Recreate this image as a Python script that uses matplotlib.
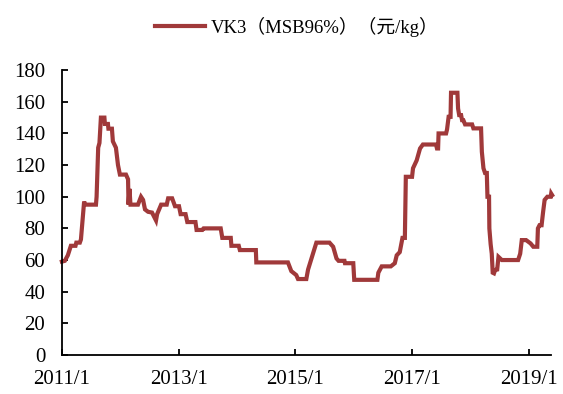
import numpy as np
import pandas as pd
import matplotlib
matplotlib.use('Agg')
import matplotlib.pyplot as plt
import matplotlib.dates as mdates

# VK3 weekly price, yuan/kg (turning points of the series)
dates = [
    '2011-01-01', '2011-01-19', '2011-02-07', '2011-02-26', '2011-03-27', '2011-04-01',
    '2011-04-23', '2011-04-30', '2011-05-10', '2011-05-20', '2011-05-25', '2011-08-02',
    '2011-08-06', '2011-08-16', '2011-08-24', '2011-09-02', '2011-09-24', '2011-09-27',
    '2011-10-16', '2011-10-19', '2011-11-10', '2011-11-16', '2011-12-05', '2011-12-18',
    '2011-12-30', '2012-02-06', '2012-02-19', '2012-02-22', '2012-02-28', '2012-03-05',
    '2012-04-21', '2012-05-10', '2012-05-23', '2012-06-04', '2012-06-23', '2012-07-18',
    '2012-08-12', '2012-08-19', '2012-09-13', '2012-10-18', '2012-10-27', '2012-11-21',
    '2012-12-09', '2013-01-03', '2013-01-13', '2013-02-13', '2013-02-24', '2013-04-16',
    '2013-04-23', '2013-05-29', '2013-06-06', '2013-09-21', '2013-10-01', '2013-11-23',
    '2013-11-27', '2014-01-12', '2014-01-19', '2014-04-29', '2014-05-02', '2014-11-16',
    '2014-12-07', '2015-01-07', '2015-01-18', '2015-03-11', '2015-03-22', '2015-05-13',
    '2015-07-26', '2015-08-03', '2015-08-26', '2015-09-16', '2015-09-29', '2015-11-05',
    '2015-11-08', '2015-12-30', '2016-01-05', '2016-05-29', '2016-06-04', '2016-06-25',
    '2016-08-21', '2016-09-15', '2016-09-27', '2016-10-16', '2016-11-02', '2016-11-17',
    '2016-11-23', '2017-01-01', '2017-01-07', '2017-01-30', '2017-02-20', '2017-03-10',
    '2017-05-31', '2017-06-06', '2017-06-13', '2017-06-16', '2017-08-02', '2017-08-08',
    '2017-08-18', '2017-08-30', '2017-09-02', '2017-10-12', '2017-10-16', '2017-10-23',
    '2017-11-04', '2017-11-10', '2017-11-18', '2017-11-29', '2018-01-12', '2018-01-20',
    '2018-03-09', '2018-03-14', '2018-03-24', '2018-04-03', '2018-04-14', '2018-04-18',
    '2018-04-28', '2018-04-30', '2018-05-08', '2018-05-15', '2018-05-21', '2018-05-29',
    '2018-06-05', '2018-06-18', '2018-06-26', '2018-07-17', '2018-10-27', '2018-11-09',
    '2018-11-19', '2018-12-16', '2019-01-13', '2019-01-30', '2019-02-24', '2019-02-28',
    '2019-03-10', '2019-03-23', '2019-04-01', '2019-04-11', '2019-04-28', '2019-05-19',
    '2019-05-22', '2019-05-28',
]
prices = [
    59, 59.5, 63, 69, 69, 71,
    71, 73, 85, 97, 95, 95,
    100, 131, 134, 150, 150, 146,
    146, 143, 143, 135, 131, 120,
    114, 114, 111, 95, 105, 95,
    95, 100, 98, 92, 90.5, 90,
    85, 89, 95, 95, 99, 99,
    94, 94, 89, 89, 84, 84,
    79, 79, 80, 80, 74, 74,
    69, 69, 66.3, 66.3, 58.5, 58.5,
    53, 50.5, 48, 48, 54, 71,
    71, 71, 68.4, 61, 59.5, 59.5,
    58, 58, 47.5, 47.5, 52, 56,
    56, 58, 63, 65, 74, 74,
    112.6, 112.6, 118, 123, 130.5, 133,
    133, 130.5, 130.5, 140, 140, 142.5,
    150.5, 150.5, 165.7, 165.7, 155.8, 151.6,
    151.6, 148.4, 148.4, 145.7, 145.7, 143.2,
    143.2, 128.4, 118, 115, 115, 100,
    100, 80, 70, 64, 52, 51.6,
    53.7, 54, 62, 60, 60, 64,
    72.6, 72.6, 70.5, 68.4, 68.4, 80,
    82, 82, 90, 98, 100, 100,
    102, 101,
]
tick_years = [2011, 2013, 2015, 2017, 2019]
y_ticks = list(range(0, 181, 20))

plt.rcParams['font.family'] = ['Liberation Serif', 'Noto Sans CJK SC']

fig = plt.figure(figsize=(5.63, 3.94), dpi=100)
ax = fig.add_axes([0.110, 0.099, 0.869, 0.723])

ax.plot(pd.to_datetime(dates), prices, color='#A0393A', lw=3.0,
        solid_joinstyle='miter', clip_on=False, label='VK3（MSB96%）（元/kg）')

ax.set_xlim(pd.Timestamp('2011-01-01'), pd.Timestamp('2019-05-22'))
ax.set_ylim(0, 180)
ax.set_yticks(y_ticks)
ax.set_xticks([pd.Timestamp(f'{y}-01-01') for y in tick_years])
ax.xaxis.set_major_formatter(mdates.DateFormatter('%Y/%-m'))

for s in ['top', 'right']:
    ax.spines[s].set_visible(False)
for s in ['left', 'bottom']:
    ax.spines[s].set_linewidth(1.3)
ax.tick_params(axis='y', direction='in', length=4, width=1.3, pad=12, labelsize=15)
ax.tick_params(axis='x', direction='in', length=4, width=1.3, pad=11, labelsize=15)

fig.legend(loc='upper center', bbox_to_anchor=(0.527, 1.0), frameon=False,
           fontsize=13.5, handlelength=2.7, handletextpad=0.3)

fig.savefig('out.png', dpi=100)
